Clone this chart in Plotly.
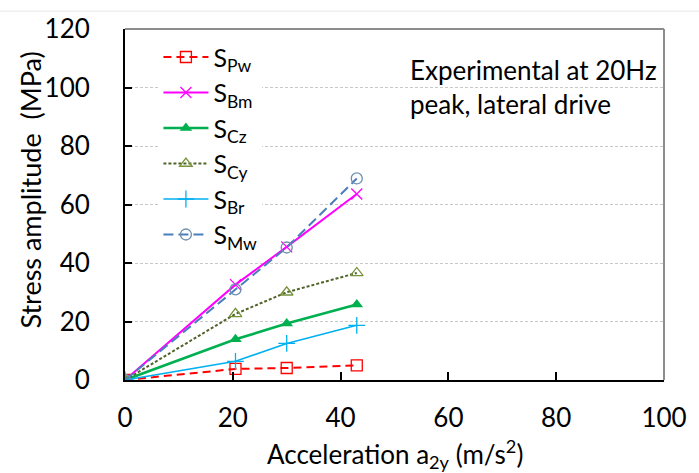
import plotly.graph_objects as go

accel = [0, 20.5, 30, 43]
s_pw = [0, 3.8, 4.1, 5.0]
s_bm = [0, 32.6, 45.5, 63.6]
s_cz = [0, 13.9, 19.3, 25.8]
s_cy = [0, 22.6, 30.0, 36.6]
s_br = [0, 6.4, 12.5, 18.7]
s_mw = [0, 31.0, 45.3, 68.9]

names = ["S<sub>Pw</sub>", "S<sub>Bm</sub>", "S<sub>Cz</sub>", "S<sub>Cy</sub>", "S<sub>Br</sub>", "S<sub>Mw</sub>"]
x_ticks = [0, 20, 40, 60, 80, 100]
y_ticks = [0, 20, 40, 60, 80, 100, 120]

FONT = "Lato"

styles = [
    dict(y=s_pw, line=dict(color="#FF0000", width=2, dash="8px,5px"),
         marker=dict(symbol="square-open", size=11, color="#FF0000", line=dict(width=1.3))),
    dict(y=s_bm, line=dict(color="#FF00FF", width=2),
         marker=dict(symbol="x-thin", size=11, color="#FF00FF", line=dict(width=1.3, color="#FF00FF"))),
    dict(y=s_cz, line=dict(color="#00B050", width=2.6),
         marker=dict(symbol="triangle-up", size=11, color="#00B050")),
    dict(y=s_cy, line=dict(color="#4F6228", width=2, dash="3px,2px"),
         marker=dict(symbol="triangle-up-open", size=11, color="#77933C", line=dict(width=1.3))),
    dict(y=s_br, line=dict(color="#00B0F0", width=1.6),
         marker=dict(symbol="cross-thin", size=12, color="#00B0F0", line=dict(width=1.3, color="#00B0F0"))),
    dict(y=s_mw, line=dict(color="#4A7EBB", width=2, dash="10px,5px"),
         marker=dict(symbol="circle-open", size=11, color="#6F8FAF", line=dict(width=1.3))),
]

fig = go.Figure()
for name, st in zip(names, styles):
    fig.add_trace(go.Scatter(x=accel, y=st["y"], name=name, mode="lines+markers",
                             line=st["line"], marker=st["marker"]))

fig.update_layout(
    width=699, height=473,
    margin=dict(l=125, r=21, t=25, b=93),
    paper_bgcolor="white", plot_bgcolor="white",
    font=dict(family=FONT, size=26, color="black"),
    showlegend=True,
    legend=dict(x=0.062, y=0.985, xanchor="left", yanchor="top", bgcolor="rgba(255,255,255,1)",
                font=dict(family=FONT, size=25), tracegroupgap=0, itemwidth=45,
                valign="middle"),
)
fig.update_xaxes(range=[0, 100], tickvals=x_ticks, ticks="inside", ticklen=8, tickwidth=2,
                 tickcolor="black", showline=True, linecolor="black", linewidth=2,
                 showgrid=False, zeroline=False, ticklabelstandoff=14,
                 ticklabeloverflow="allow",
                 tickfont=dict(family=FONT, size=26))
fig.update_yaxes(range=[0, 120], tickvals=y_ticks, ticks="inside", ticklen=7, tickwidth=2,
                 tickcolor="black", showline=True, linecolor="black", linewidth=2,
                 showgrid=True, gridcolor="#C8C8C8", griddash="3px,2px", gridwidth=1,
                 zeroline=False, ticklabelstandoff=28, ticklabeloverflow="allow",
                 tickfont=dict(family=FONT, size=26))

# gray frame on top and right
fig.add_shape(type="line", xref="paper", yref="paper", x0=0, x1=1, y0=1, y1=1,
              line=dict(color="#8C8C8C", width=2))
fig.add_shape(type="line", xref="paper", yref="paper", x0=1, x1=1, y0=0, y1=1,
              line=dict(color="#8C8C8C", width=2))
# faint top border line
fig.add_shape(type="line", xref="paper", yref="paper", x0=-0.3, x1=1.1, y0=1.051, y1=1.051,
              line=dict(color="#E6E6E6", width=1))

fig.add_annotation(text="Experimental at 20Hz<br>peak, lateral drive", xref="paper", yref="paper",
                   x=0.99, y=0.935, xanchor="right", yanchor="top", align="left", showarrow=False,
                   font=dict(family=FONT, size=26))
fig.add_annotation(text="Stress amplitude  (MPa)", xref="paper", yref="paper",
                   x=-0.176, y=0.54, xanchor="center", yanchor="middle", textangle=-90,
                   showarrow=False, font=dict(family=FONT, size=27))
fig.add_annotation(text="Acceleration a<sub>2y</sub> (m/s<sup>2</sup>)", xref="paper", yref="paper",
                   x=0.5, y=-0.21, xanchor="center", yanchor="middle",
                   showarrow=False, font=dict(family=FONT, size=26))

fig.write_html("out.html")
